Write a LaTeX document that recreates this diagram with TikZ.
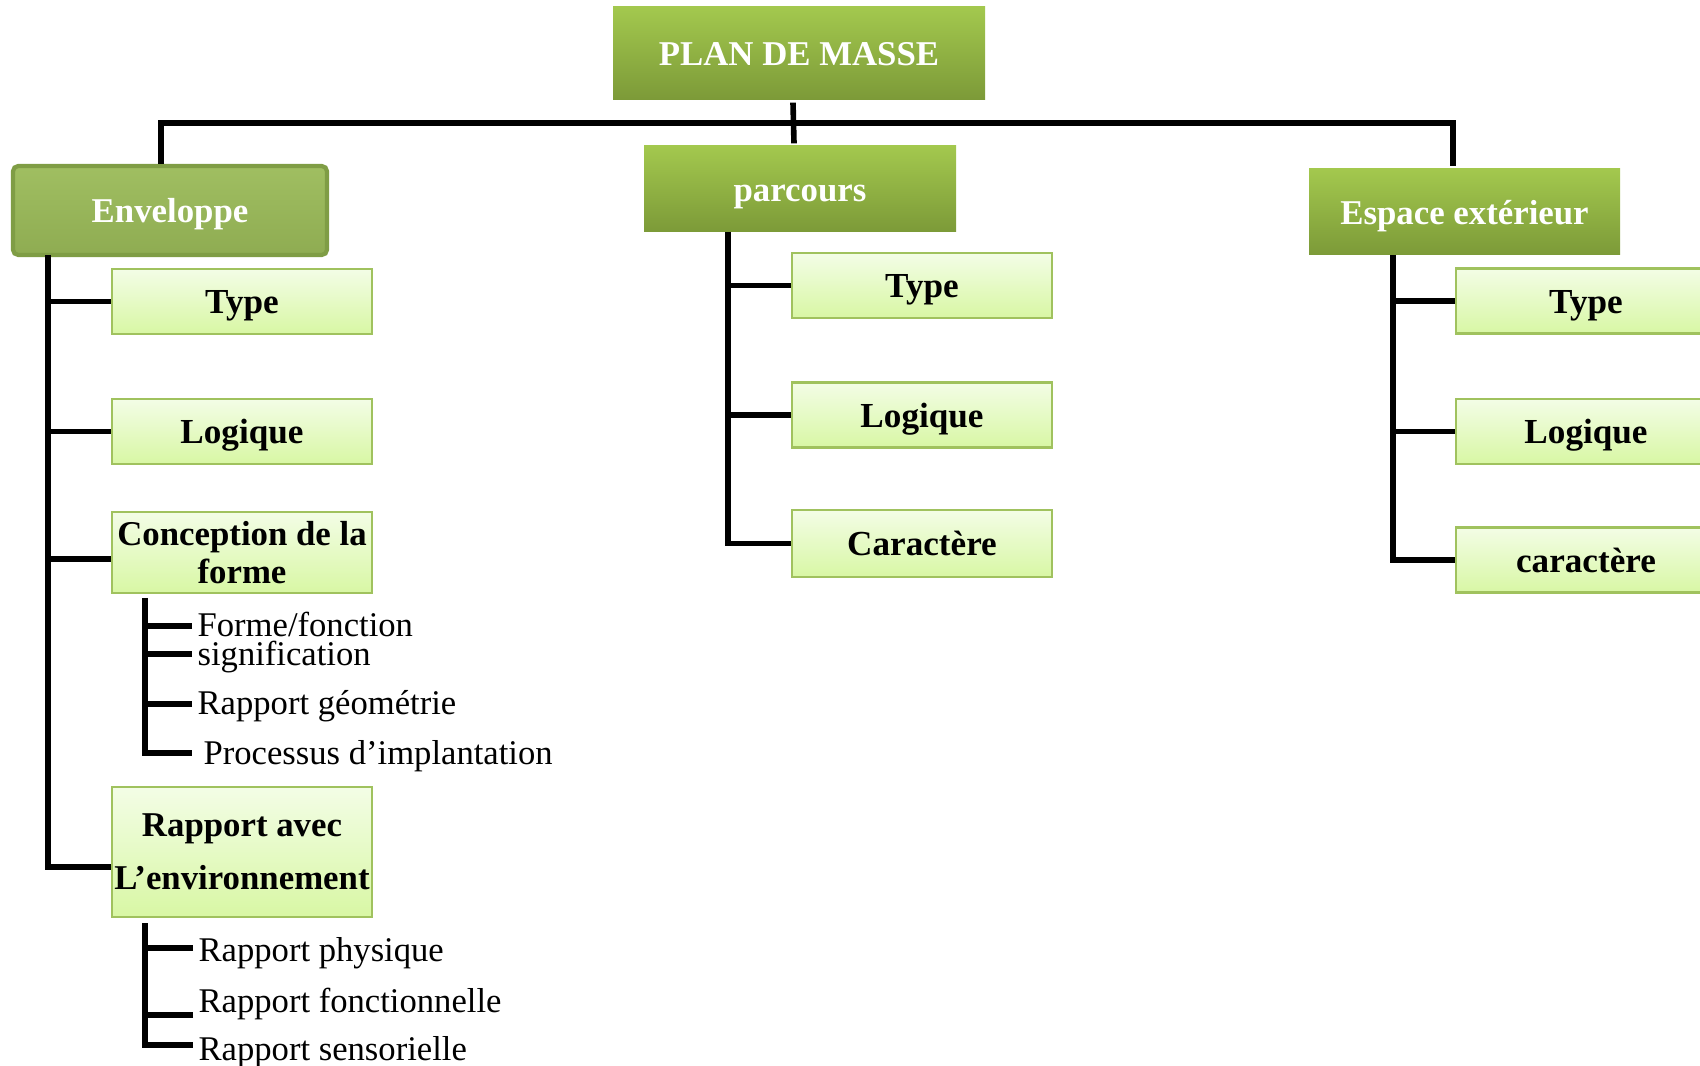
\documentclass[tikz,border=0pt]{standalone}
\usepackage{fontspec}
\setmainfont{Liberation Serif}
\usetikzlibrary{positioning, calc}
\definecolor{cdark}{HTML}{7C9A38}
\definecolor{clight}{HTML}{A3C84E}
\definecolor{cenv}{HTML}{9BBB59}
\definecolor{cenvline}{HTML}{7F9D45}
\definecolor{cpale}{HTML}{F3FDE6}
\definecolor{cpaler}{HTML}{D8F7A4}
\definecolor{cedge}{HTML}{A0C25E}
\tikzset{
  every picture/.style={line width=1.5pt},
  head/.style={top color=clight, bottom color=cdark, draw=none, text=white, font=\fontsize{9.9}{12}\selectfont\bfseries, text height=0.7em, text depth=0pt, minimum width=#1, minimum height=0.86cm, inner sep=0pt},
  head/.default=3.12cm,
  envbox/.style={top color=cenv!95!white, bottom color=cenv!92!black, draw=cenvline, line width=1.2pt, rounded corners=1.5pt, text=white, font=\fontsize{9.9}{12}\selectfont\bfseries, text height=0.7em, text depth=0pt, minimum width=3.14cm, minimum height=0.89cm, inner sep=0pt},
  leaf/.style={top color=cpale, bottom color=cpaler, draw=cedge, line width=0.8pt, font=\fontsize{10}{12}\selectfont\bfseries, text height=0.7em, text depth=0pt, align=center, minimum width=2.6cm, minimum height=0.65cm, inner sep=0pt},
  twoline/.style={text height=, text depth=, font=\fontsize{9.9}{#1}\selectfont\bfseries},
  item/.style={anchor=base west, inner sep=0pt, font=\fontsize{9.85}{11}\selectfont},
  link/.style={draw=black, line width=1.6pt},
}
\begin{document}
\begin{tikzpicture}
  \clip (0,0) rectangle (17,-10.66);
  % top levels
  \node[head=3.72cm, minimum height=0.93cm] (plan) at (7.99,-0.535) {PLAN DE MASSE};
  \node[envbox] (env) at (1.70,-2.105) {Enveloppe};
  \node[head] (parc) at (8.00,-1.89) {parcours};
  \node[head=3.11cm] (esp) at (14.645,-2.12) {Espace extérieur};
  \coordinate (bar) at (7.94,-1.23);
  \draw[link] ([xshift=-0.06cm]plan.south) -- ([xshift=-0.06cm]parc.north);
  \draw[link] ([xshift=-0.09cm]env.north) |- (bar) -| ([xshift=-0.115cm]esp.north);

  % Enveloppe
  \node[leaf] (ty1) at (2.42,-3.015) {Type};
  \node[leaf] (lo1) at (2.42,-4.315) {Logique};
  \node[leaf, twoline=10.8, minimum height=0.81cm] (co1) at (2.42,-5.525) {Conception de la\\forme};
  \node[leaf, twoline=11, minimum height=1.30cm] (rap1) at (2.42,-8.52) {Rapport avec\\[4pt]L’environnement};
  \coordinate (envT) at (0.48,-2.55);
  \draw[link] (envT) |- ([yshift=-0.15cm]rap1.west);
  \foreach \nm in {ty1,lo1} \draw[link] (\nm.west) -- (\nm.west -| envT);
  \draw[link] ([yshift=-0.065cm]co1.west) -- ++(-0.64,0);

  \node[item] (f1) at (1.95,-6.37) {Forme/fonction};
  \node[item] (f2) at (1.95,-6.66) {signification};
  \node[item] (f3) at (1.95,-7.15) {Rapport géométrie};
  \node[item] (f4) at (2.01,-7.65) {Processus d’implantation};
  \coordinate (coT) at (1.45,-5.98);
  \draw[link] (coT) |- ([shift={(-0.09,0.12)}]f4.base west);
  \foreach \nm/\dy in {f1/0.11, f2/0.12, f3/0.11}
    \draw[link] ([shift={(-0.03,\dy)}]\nm.base west) -- ++(-0.47,0);

  \node[item] (r1) at (1.96,-9.62) {Rapport physique};
  \node[item] (r2) at (1.96,-10.12) {Rapport fonctionnelle};
  \node[item] (r3) at (1.96,-10.60) {Rapport sensorielle};
  \coordinate (raT) at (1.45,-9.23);
  \draw[link] (raT) |- ([shift={(-0.03,0.15)}]r3.base west);
  \foreach \nm/\dy in {r1/0.14, r2/-0.03}
    \draw[link] ([shift={(-0.03,\dy)}]\nm.base west) -- ++(-0.48,0);

  % parcours
  \node[leaf] (ty2) at (9.22,-2.855) {Type};
  \node[leaf] (lo2) at (9.22,-4.15) {Logique};
  \node[leaf, minimum height=0.67cm] (ca2) at (9.22,-5.435) {Caractère};
  \coordinate (parT) at (7.28,-2.32);
  \draw[link] (parT) |- (ca2.west);
  \foreach \nm in {ty2,lo2} \draw[link] (\nm.west) -- (\nm.west -| parT);

  % Espace exterieur
  \node[leaf] (ty3) at (15.86,-3.01) {Type};
  \node[leaf] (lo3) at (15.86,-4.315) {Logique};
  \node[leaf] (ca3) at (15.86,-5.60) {caractère};
  \coordinate (espT) at (13.93,-2.55);
  \draw[link] (espT) |- (ca3.west);
  \foreach \nm in {ty3,lo3} \draw[link] (\nm.west) -- (\nm.west -| espT);
\end{tikzpicture}
\end{document}
